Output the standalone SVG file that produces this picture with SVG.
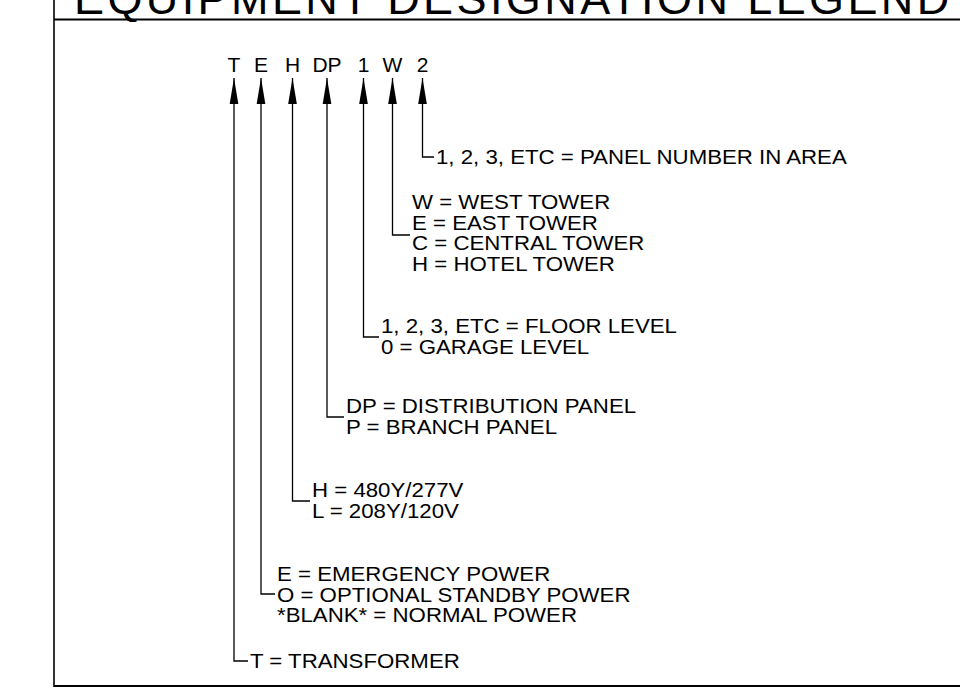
<svg xmlns="http://www.w3.org/2000/svg" width="960" height="687" viewBox="0 0 960 687">
<defs>
<style>
.frame{stroke:#000;fill:none}
.con{stroke:#000;stroke-width:1.3;fill:none;marker-start:url(#ah)}
text{font-family:"Liberation Sans",Arial,sans-serif;fill:#000}
.code{font-size:21px;text-anchor:middle}
.lbl{font-size:20.6px}
.title{font-size:45px;letter-spacing:3.4px}
</style>
<marker id="ah" markerUnits="userSpaceOnUse" markerWidth="26" markerHeight="10" viewBox="0 0 24 8" refX="24" refY="4" orient="auto-start-reverse">
<path d="M0,0 L24,4 L0,8 Z" fill="#000"/>
</marker>
</defs>
<rect width="960" height="687" fill="#fff"/>
<g id="frame">
<text class="title" x="74" y="14">EQUIPMENT DESIGNATION LEGEND</text>
<line class="frame" x1="54" y1="19.5" x2="960" y2="19.5" stroke-width="2.2"/>
<line class="frame" x1="54" y1="0" x2="54" y2="687" stroke-width="1.6"/>
<line class="frame" x1="54" y1="686" x2="960" y2="686" stroke-width="2"/>
</g>
<g id="designation">
<text class="code" x="234" y="72">T</text>
<text class="code" x="261" y="72">E</text>
<text class="code" x="292.5" y="72">H</text>
<text class="code" x="327" y="72">DP</text>
<text class="code" x="363.5" y="72">1</text>
<text class="code" x="392.5" y="72">W</text>
<text class="code" x="422.5" y="72">2</text>
</g>
<g id="connectors">
<path class="con" d="M234,78 V661 H248"/>
<path class="con" d="M261,78 V594 H275"/>
<path class="con" d="M292.5,78 V501 H310"/>
<path class="con" d="M327,78 V417 H344"/>
<path class="con" d="M363.5,78 V337 H379"/>
<path class="con" d="M392.5,78 V235 H410"/>
<path class="con" d="M422.5,78 V157 H434"/>
</g>
<g id="panel-number" transform="translate(436,0) scale(1.08,1)">
<text class="lbl" x="0" y="164.5">1, 2, 3, ETC = PANEL NUMBER IN AREA</text>
</g>
<g id="tower" transform="translate(412,0) scale(1.08,1)">
<text class="lbl" x="0" y="209.5">W = WEST TOWER</text>
<text class="lbl" x="0" y="230">E = EAST TOWER</text>
<text class="lbl" x="0" y="250.5">C = CENTRAL TOWER</text>
<text class="lbl" x="0" y="271">H = HOTEL TOWER</text>
</g>
<g id="floor" transform="translate(381,0) scale(1.08,1)">
<text class="lbl" x="0" y="333.5">1, 2, 3, ETC = FLOOR LEVEL</text>
<text class="lbl" x="0" y="354">0 = GARAGE LEVEL</text>
</g>
<g id="panel-type" transform="translate(346,0) scale(1.08,1)">
<text class="lbl" x="0" y="413.5">DP = DISTRIBUTION PANEL</text>
<text class="lbl" x="0" y="434">P = BRANCH PANEL</text>
</g>
<g id="voltage" transform="translate(312,0) scale(1.08,1)">
<text class="lbl" x="0" y="497.5">H = 480Y/277V</text>
<text class="lbl" x="0" y="518">L = 208Y/120V</text>
</g>
<g id="power" transform="translate(277,0) scale(1.08,1)">
<text class="lbl" x="0" y="581.5">E = EMERGENCY POWER</text>
<text class="lbl" x="0" y="602">O = OPTIONAL STANDBY POWER</text>
<text class="lbl" x="0" y="622.5">*BLANK* = NORMAL POWER</text>
</g>
<g id="transformer" transform="translate(250,0) scale(1.08,1)">
<text class="lbl" x="0" y="668.5">T = TRANSFORMER</text>
</g>
</svg>
